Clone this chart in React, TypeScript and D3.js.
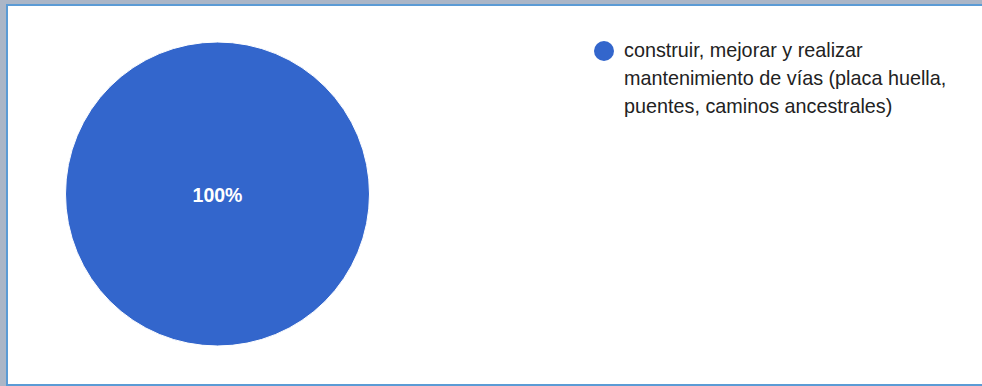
import React from "react";
import * as d3 from "d3";

const categories = [
  "construir, mejorar y realizar mantenimiento de vías (placa huella, puentes, caminos ancestrales)",
];
const values = [1];
const colors = ["#3366cc"];
// legend text as it wraps in the reference
const legendLines = [
  ["construir, mejorar y realizar", "mantenimiento de vías (placa huella,", "puentes, caminos ancestrales)"],
];

const W = 982;
const H = 386;

export default function App() {
  const cx = 217.5;
  const cy = 194;
  const r = 152;
  const total = d3.sum(values);
  const pie = d3.pie<number>().sort(null).value((d) => d);
  const arcs = pie(values);
  const arc = d3.arc<d3.PieArcDatum<number>>().innerRadius(0).outerRadius(r);
  const fmt = d3.format(".0%");
  const font = "'Liberation Sans', Arial, sans-serif";

  return (
    <div style={{ position: "fixed", left: 0, top: 0, width: W, height: H }}>
      <svg width={W} height={H} style={{ display: "block" }}>
        <rect x={0} y={0} width={W} height={H} fill="#abb6c7" />
        <rect x={6} y={4} width={W - 6} height={H - 4} fill="#5b9bd5" />
        <rect x={8} y={6} width={W - 8} height={H - 8} fill="#ffffff" />
        <g transform={`translate(${cx},${cy})`}>
          {arcs.map((a, i) => (
            <path key={i} d={arc(a) || ""} fill={colors[i]} stroke="#ffffff" strokeWidth={1} />
          ))}
          {arcs.map((a, i) => {
            const single = a.endAngle - a.startAngle >= 2 * Math.PI - 1e-6;
            const [lx, ly] = single ? [0, 0] : arc.centroid(a);
            return (
              <text
                key={i}
                x={lx}
                y={ly + 8}
                textAnchor="middle"
                fill="#ffffff"
                fontFamily={font}
                fontSize={19.5}
                fontWeight={600}
              >
                {fmt(a.data / total)}
              </text>
            );
          })}
        </g>
        <g>
          {categories.map((c, i) => (
            <g key={i} transform={`translate(604,${51 + i * 90})`}>
              <circle cx={0} cy={0} r={10} fill={colors[i]} />
              <text x={20} y={0} fontFamily={font} fontSize={19.8} fill="#222222">
                {legendLines[i].map((ln, j) => (
                  <tspan key={j} x={20} y={6 + j * 28}>
                    {ln}
                  </tspan>
                ))}
              </text>
            </g>
          ))}
        </g>
      </svg>
    </div>
  );
}
